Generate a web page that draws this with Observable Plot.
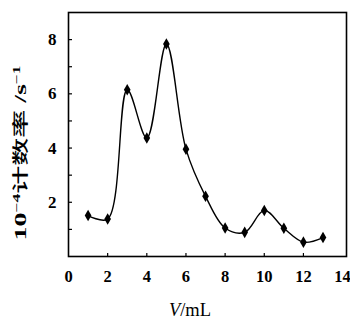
<!DOCTYPE html>
<html>
<head>
<meta charset="utf-8">
<script src="https://cdn.jsdelivr.net/npm/d3@7"></script>
<script src="https://cdn.jsdelivr.net/npm/@observablehq/plot@0.6"></script>
<style>
  html, body { margin: 0; padding: 0; background: #fff; }
</style>
</head>
<body>
<div id="chart"></div>
<script>
// Data
const volume = [1, 2, 3, 4, 5, 6, 7, 8, 9, 10, 11, 12, 13];           // V / mL
const countRate = [1.51, 1.38, 6.15, 4.37, 7.84, 3.96, 2.22, 1.05, 0.89, 1.70, 1.04, 0.53, 0.70]; // 10^-4 count rate / s^-1
const xTickLabels = [0, 2, 4, 6, 8, 10, 12, 14];
const xMinorTicks = [2, 4, 6, 8, 10, 12];
const yTickLabels = [2, 4, 6, 8];
const yMinorTicks = [1, 2, 3, 4, 5, 6, 7, 8];

const data = volume.map((v, i) => ({v, r: countRate[i]}));

const W = 350, H = 323, mT = 12, mR = 4, mB = 67, mL = 68;
const frameW = W - mL - mR, frameH = H - mT - mB;

const chart = Plot.plot({
  width: W,
  height: H,
  marginTop: mT,
  marginRight: mR,
  marginBottom: mB,
  marginLeft: mL,
  x: {domain: [0, 14.2]},
  y: {domain: [0, 9]},
  style: {
    fontFamily: "'Liberation Serif', 'Times New Roman', serif",
    fontWeight: "bold",
    fontSize: "17px",
    color: "black",
    background: "white"
  },
  marks: [
    Plot.frame({stroke: "black", strokeWidth: 1.6}),
    // inward minor ticks
    Plot.tickY(yMinorTicks, {y: d => d, insetRight: frameW - 4, stroke: "black", strokeWidth: 1.2}),
    Plot.tickX(xMinorTicks, {x: d => d, insetTop: frameH - 3, stroke: "black", strokeWidth: 1.2}),
    Plot.axisY(yTickLabels, {tickSize: 0, tickPadding: 12, label: null, fontSize: 17}),
    Plot.axisX(xTickLabels, {tickSize: 0, tickPadding: 14, label: null, fontSize: 16.5}),
    Plot.line(data, {x: "v", y: "r", curve: "catmull-rom", stroke: "black", strokeWidth: 1.4}),
    Plot.dot(data, {x: "v", y: "r", symbol: "diamond", r: 3.5, fill: "black", stroke: "none"})
  ]
});

const svg = d3.select(chart);

// Y axis title (stretched along its length like the scanned original)
const yl = svg.append("g")
  .attr("transform", "translate(26,153) rotate(-90) scale(1.75,1)")
  .append("text")
  .attr("text-anchor", "middle")
  .attr("font-family", "'Liberation Serif', 'Noto Sans CJK SC', serif")
  .attr("font-weight", "bold")
  .attr("font-size", 16)
  .attr("fill", "black");
yl.append("tspan").text("10");
yl.append("tspan").attr("font-size", 10).attr("dy", -6).text("−4");
yl.append("tspan").attr("dy", 6).attr("font-family", "'Noto Sans CJK SC', sans-serif").attr("font-weight", 500).text("计数率");
yl.append("tspan").text(" /s");
yl.append("tspan").attr("font-size", 10).attr("dy", -6).text("−1");

// X axis title
const xl = svg.append("text")
  .attr("x", 190)
  .attr("y", 316)
  .attr("text-anchor", "middle")
  .attr("font-family", "'Liberation Serif', 'Times New Roman', serif")
  .attr("font-weight", "normal")
  .attr("font-size", 18.5)
  .attr("fill", "black");
xl.append("tspan").attr("font-style", "italic").text("V");
xl.append("tspan").text("/mL");

document.getElementById("chart").appendChild(chart);
</script>
</body>
</html>
